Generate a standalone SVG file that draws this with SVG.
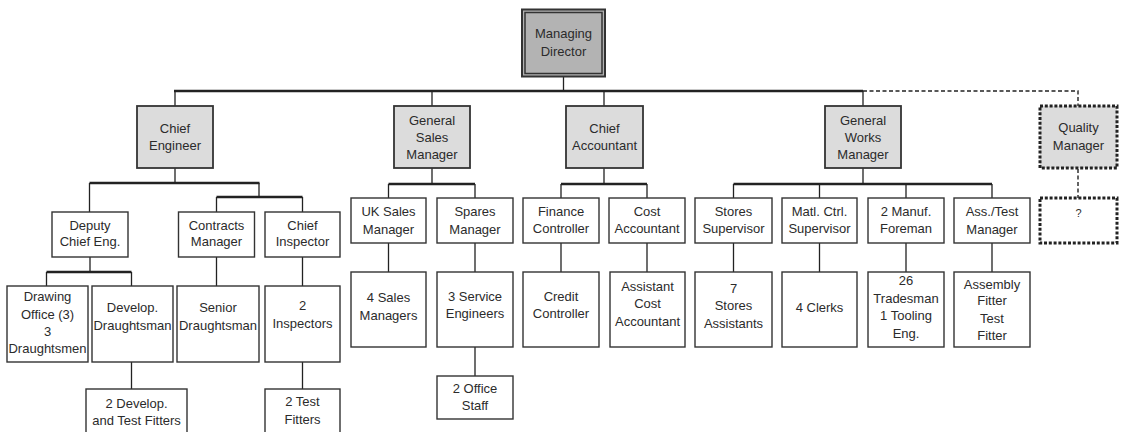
<svg xmlns="http://www.w3.org/2000/svg" width="1122" height="432" viewBox="0 0 1122 432">
<style>
text{font-family:"Liberation Sans",Arial,sans-serif;font-size:13px;fill:#2b2b2b;text-anchor:middle}
.b{fill:#fff;stroke:#333;stroke-width:1.4}
.t{fill:#dcdcdc;stroke:#333;stroke-width:1.8}
.bus{fill:none;stroke:#222;stroke-width:2.3}
.v{fill:none;stroke:#222;stroke-width:1.3}
.d{fill:none;stroke:#222;stroke-width:1.4;stroke-dasharray:4 2.5}
.q{stroke:#222;stroke-width:3;stroke-dasharray:3 1.8}
</style>
<rect width="1122" height="432" fill="#fff"/>
<g id="connectors">
<path class="bus" d="M174,91H863M89.5,183H259.5M216.5,197H302.5M46.5,272H131.5M388.5,184H475M561,184H647M733.5,184H992"/>
<path class="v" d="M563.5,77V91M175,91V106M432,91V106M604,91V106M863,91V106
M175,168V183M89.5,183V212M259,183V197M216.5,197V212M302.5,197V212
M90,257V272M46.5,272V286M131.5,272V286M216.5,257V286M302.5,257V286M302.5,362V389M131.5,362V389
M432,168V184M388.5,184V198M475,184V198M388.5,243V272M475,243V272M475,347V376
M604,168V184M561,184V198M647,184V198M561,243V272M647,243V272
M863,168V184M733.5,184V198M819.5,184V198M906,184V198M992,184V198M733.5,243V272M819.5,243V272M906,243V272M992,243V272"/>
<path class="d" d="M863,91H1078V106M1078,169V198"/>
</g>
<g id="managing-director">
<rect x="522" y="9.5" width="83" height="67" fill="#b3b3b3" stroke="#333" stroke-width="2"/>
<rect x="525" y="12.5" width="77" height="61" fill="none" stroke="#333" stroke-width="1.5"/>
<text x="563.5" y="37.5">Managing</text><text x="563.5" y="55.5">Director</text>
</g>
<g id="chief-engineer"><rect class="t" x="137" y="106" width="76" height="62"/><text x="175" y="132.5">Chief</text><text x="175" y="150">Engineer</text></g>
<g id="general-sales-manager"><rect class="t" x="394" y="106" width="76" height="62"/><text x="432" y="125">General</text><text x="432" y="142">Sales</text><text x="432" y="159">Manager</text></g>
<g id="chief-accountant"><rect class="t" x="566" y="106" width="77" height="62"/><text x="604.5" y="132.5">Chief</text><text x="604.5" y="150">Accountant</text></g>
<g id="general-works-manager"><rect class="t" x="825" y="106" width="76" height="62"/><text x="863" y="125">General</text><text x="863" y="142">Works</text><text x="863" y="159">Manager</text></g>
<g id="quality-manager"><rect class="t q" x="1040" y="106" width="77" height="62"/><text x="1078.5" y="132">Quality</text><text x="1078.5" y="150">Manager</text></g>
<g id="deputy-chief-eng"><rect class="b" x="52" y="212" width="76" height="45"/><text x="90" y="230">Deputy</text><text x="90" y="246">Chief Eng.</text></g>
<g id="contracts-manager"><rect class="b" x="178.5" y="212" width="76" height="45"/><text x="216.5" y="230">Contracts</text><text x="216.5" y="246">Manager</text></g>
<g id="chief-inspector"><rect class="b" x="265" y="212" width="75" height="45"/><text x="302.5" y="230">Chief</text><text x="302.5" y="246">Inspector</text></g>
<g id="drawing-office"><rect class="b" x="7" y="286" width="81" height="76"/><text x="47.5" y="301">Drawing</text><text x="47.5" y="318.5">Office (3)</text><text x="47.5" y="336">3</text><text x="47.5" y="353">Draughtsmen</text></g>
<g id="develop-draughtsman"><rect class="b" x="92" y="286" width="81" height="76"/><text x="132.5" y="312">Develop.</text><text x="132.5" y="329.5">Draughtsman</text></g>
<g id="senior-draughtsman"><rect class="b" x="177" y="286" width="82" height="76"/><text x="218" y="312">Senior</text><text x="218" y="329.5">Draughtsman</text></g>
<g id="inspectors"><rect class="b" x="265" y="286" width="75" height="76"/><text x="302.5" y="309.5">2</text><text x="302.5" y="328">Inspectors</text></g>
<g id="develop-test-fitters"><rect class="b" x="86" y="389" width="101" height="50"/><text x="136.5" y="408">2 Develop.</text><text x="136.5" y="424.5">and Test Fitters</text></g>
<g id="test-fitters"><rect class="b" x="265" y="389" width="75" height="50"/><text x="302.5" y="406">2 Test</text><text x="302.5" y="424">Fitters</text></g>
<g id="uk-sales-manager"><rect class="b" x="351" y="198" width="75" height="45"/><text x="388.5" y="215.5">UK Sales</text><text x="388.5" y="233.5">Manager</text></g>
<g id="spares-manager"><rect class="b" x="437" y="198" width="76" height="45"/><text x="475" y="215.5">Spares</text><text x="475" y="233.5">Manager</text></g>
<g id="sales-managers"><rect class="b" x="351" y="272" width="75" height="75"/><text x="388.5" y="302">4 Sales</text><text x="388.5" y="320">Managers</text></g>
<g id="service-engineers"><rect class="b" x="437" y="272" width="76" height="75"/><text x="475" y="301">3 Service</text><text x="475" y="318">Engineers</text></g>
<g id="office-staff"><rect class="b" x="437" y="376" width="76" height="43"/><text x="475" y="393">2 Office</text><text x="475" y="409.5">Staff</text></g>
<g id="finance-controller"><rect class="b" x="523" y="198" width="76" height="45"/><text x="561" y="215.5">Finance</text><text x="561" y="233">Controller</text></g>
<g id="cost-accountant"><rect class="b" x="609" y="198" width="76" height="45"/><text x="647" y="215.5">Cost</text><text x="647" y="233">Accountant</text></g>
<g id="credit-controller"><rect class="b" x="523" y="272" width="76" height="75"/><text x="561" y="301">Credit</text><text x="561" y="318">Controller</text></g>
<g id="assistant-cost-accountant"><rect class="b" x="610" y="272" width="75" height="75"/><text x="647.5" y="291">Assistant</text><text x="647.5" y="308">Cost</text><text x="647.5" y="325.5">Accountant</text></g>
<g id="stores-supervisor"><rect class="b" x="695" y="198" width="77" height="45"/><text x="733.5" y="215.5">Stores</text><text x="733.5" y="233">Supervisor</text></g>
<g id="stores-assistants"><rect class="b" x="695" y="272" width="77" height="75"/><text x="733.5" y="292.5">7</text><text x="733.5" y="310">Stores</text><text x="733.5" y="327.5">Assistants</text></g>
<g id="matl-ctrl-supervisor"><rect class="b" x="782" y="198" width="75" height="45"/><text x="819.5" y="215.5">Matl. Ctrl.</text><text x="819.5" y="233">Supervisor</text></g>
<g id="clerks"><rect class="b" x="782" y="272" width="75" height="75"/><text x="819.5" y="312">4 Clerks</text></g>
<g id="manuf-foreman"><rect class="b" x="868" y="198" width="76" height="45"/><text x="906" y="215.5">2 Manuf.</text><text x="906" y="233">Foreman</text></g>
<g id="tradesman"><rect class="b" x="868" y="272" width="76" height="75"/><text x="906" y="284.5">26</text><text x="906" y="302.5">Tradesman</text><text x="906" y="320">1 Tooling</text><text x="906" y="337.5">Eng.</text></g>
<g id="ass-test-manager"><rect class="b" x="954" y="198" width="76" height="45"/><text x="992" y="216">Ass./Test</text><text x="992" y="234">Manager</text></g>
<g id="assembly-test-fitter"><rect class="b" x="954" y="272" width="76" height="75"/><text x="992" y="288.5">Assembly</text><text x="992" y="305">Fitter</text><text x="992" y="322.5">Test</text><text x="992" y="339.5">Fitter</text></g>
<g id="unknown"><rect class="q" fill="#fff" x="1040" y="198" width="77" height="45"/><text x="1078.5" y="216.5" style="font-size:11px">?</text></g>
</svg>
